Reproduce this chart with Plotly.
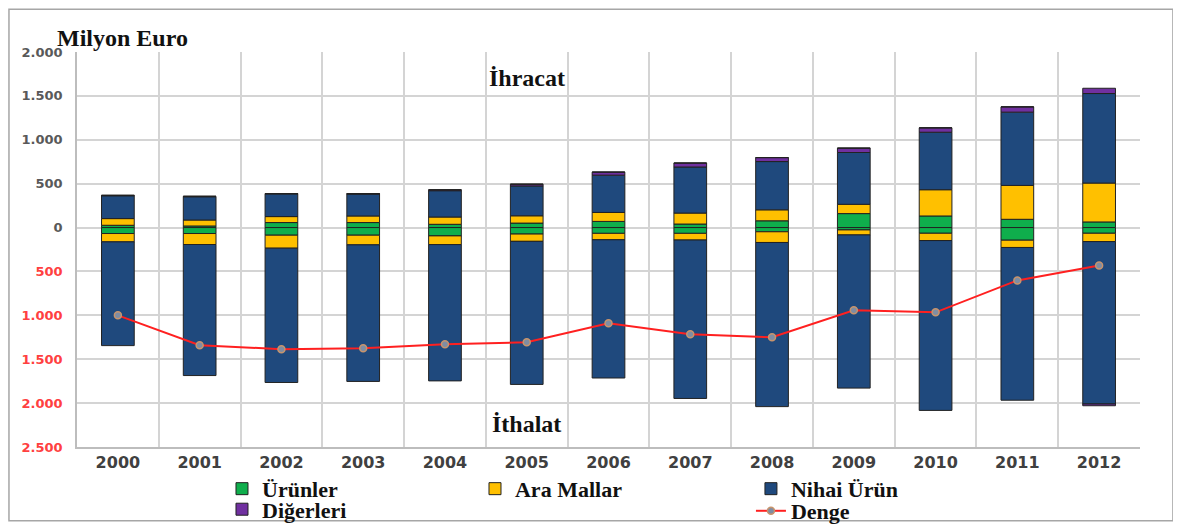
import plotly.graph_objects as go

years = ["2000", "2001", "2002", "2003", "2004", "2005", "2006",
         "2007", "2008", "2009", "2010", "2011", "2012"]

# Exports (İhracat), million euro
exp_urunler = [26, 18, 57, 57, 37, 51, 70, 40, 77, 159, 132, 94, 64]
exp_ara_mallar = [76, 68, 68, 75, 83, 83, 102, 125, 125, 106, 299, 386, 443]
exp_nihai_urun = [260, 265, 258, 250, 300, 340, 425, 525, 550, 590, 655, 835, 1020]
exp_digerleri = [5, 5, 5, 5, 10, 20, 35, 45, 45, 50, 50, 60, 60]

# Imports (İthalat), million euro (drawn below zero)
imp_urunler = [68, 68, 87, 87, 95, 74, 66, 66, 48, 27, 65, 144, 65]
imp_ara_mallar = [95, 125, 148, 110, 99, 83, 73, 76, 122, 57, 83, 83, 95]
imp_nihai_urun = [1182, 1493, 1530, 1556, 1553, 1630, 1575, 1805, 1870, 1745, 1935, 1740, 1850]
imp_digerleri = [0, 0, 0, 0, 0, 0, 0, 0, 0, 0, 0, 0, 20]

# Balance (Denge)
denge = [-1000, -1340, -1386, -1375, -1330, -1307, -1090, -1215, -1250, -943, -966, -602, -432]

y_tick_vals = [-2500, -2000, -1500, -1000, -500, 0, 500, 1000, 1500, 2000]
y_tick_labels = ["2.500", "2.000", "1.500", "1.000", "500", "0", "500", "1.000", "1.500", "2.000"]

series = [
    ("Ürünler", exp_urunler, imp_urunler, "#0fae4c", "legend"),
    ("Ara Mallar", exp_ara_mallar, imp_ara_mallar, "#ffc000", "legend2"),
    ("Nihai Ürün", exp_nihai_urun, imp_nihai_urun, "#1f497d", "legend3"),
    ("Diğerleri", exp_digerleri, imp_digerleri, "#7030a0", "legend4"),
]

fig = go.Figure()
for name, ex, im, color, leg in series:
    fig.add_trace(go.Bar(
        x=years, y=ex, name=name, legendgroup=name, legend=leg,
        marker=dict(color=color, line=dict(color="#222222", width=1)),
    ))
    fig.add_trace(go.Bar(
        x=years, y=[-v for v in im], name=name, legendgroup=name, legend=leg,
        showlegend=False,
        marker=dict(color=color, line=dict(color="#222222", width=1)),
    ))

fig.add_trace(go.Scatter(
    x=years, y=denge, name="Denge", legend="legend5", mode="lines+markers",
    line=dict(color="#ff2020", width=2),
    marker=dict(symbol="circle", size=7, color="#7f8da3",
                line=dict(color="#c8946c", width=1.5)),
))

ticktext = []
for v, t in zip(y_tick_vals, y_tick_labels):
    if v < 0:
        ticktext.append("<span style='color:#ff4040'>" + t + "</span>")
    else:
        ticktext.append(t)

serif = dict(family="Liberation Serif", size=24, color="#111111", weight="bold")
serif_leg = dict(family="Liberation Serif", size=22, color="#111111", weight="bold")


def leg(x, y):
    return dict(orientation="h", x=x, y=y, xanchor="left", yanchor="middle",
                font=serif_leg, bgcolor="rgba(0,0,0,0)", borderwidth=0)


# The page body adds an 8px offset, so the figure is 8px smaller than the window.
fig.update_layout(
    width=1173, height=516,
    margin=dict(l=69, r=41, t=44, b=77, autoexpand=False),
    paper_bgcolor="white", plot_bgcolor="white",
    barmode="relative", bargap=0.6,
    xaxis=dict(
        type="category", tickson="boundaries", showgrid=True,
        range=[-0.5, len(years) - 0.5], automargin=False, tickangle=0,
        gridcolor="#d4d4d4", gridwidth=1.5, ticks="",
        showline=True, linecolor="#bdbdbd", linewidth=1.5,
        tickfont=dict(family="DejaVu Sans", size=16, color="#404040", weight="bold"),
    ),
    yaxis=dict(
        range=[-2500, 2000], tickvals=y_tick_vals, ticktext=ticktext,
        automargin=False,
        showgrid=True, gridcolor="#d4d4d4", gridwidth=1.5, zeroline=False,
        showline=True, linecolor="#bdbdbd", linewidth=1.5,
        ticks="", ticklabelstandoff=10,
        tickfont=dict(family="DejaVu Sans", size=13, color="#595959", weight="bold"),
    ),
    legend=leg(0.1364, -0.106),
    legend2=leg(0.3744, -0.106),
    legend3=leg(0.634, -0.106),
    legend4=leg(0.1364, -0.158),
    legend5=leg(0.634, -0.162),
    showlegend=True,
)

mid = years.index("2005")
fig.add_annotation(text="Milyon Euro", xref="paper", yref="paper", x=-0.021, y=1.035,
                   xanchor="left", yanchor="middle", showarrow=False, font=serif)
fig.add_annotation(text="İhracat", xref="x", yref="y", x=mid, y=1700,
                   xanchor="center", yanchor="middle", showarrow=False, font=serif)
fig.add_annotation(text="İthalat", xref="x", yref="y", x=mid, y=-2240,
                   xanchor="center", yanchor="middle", showarrow=False, font=serif)

# outer frame
fig.add_shape(type="rect", xref="paper", yref="paper",
              x0=-0.064, x1=1.031, y0=-0.187, y1=1.108,
              line=dict(color="#a6a6a6", width=1.5), fillcolor="rgba(0,0,0,0)", layer="below")

fig.write_html("out.html")
